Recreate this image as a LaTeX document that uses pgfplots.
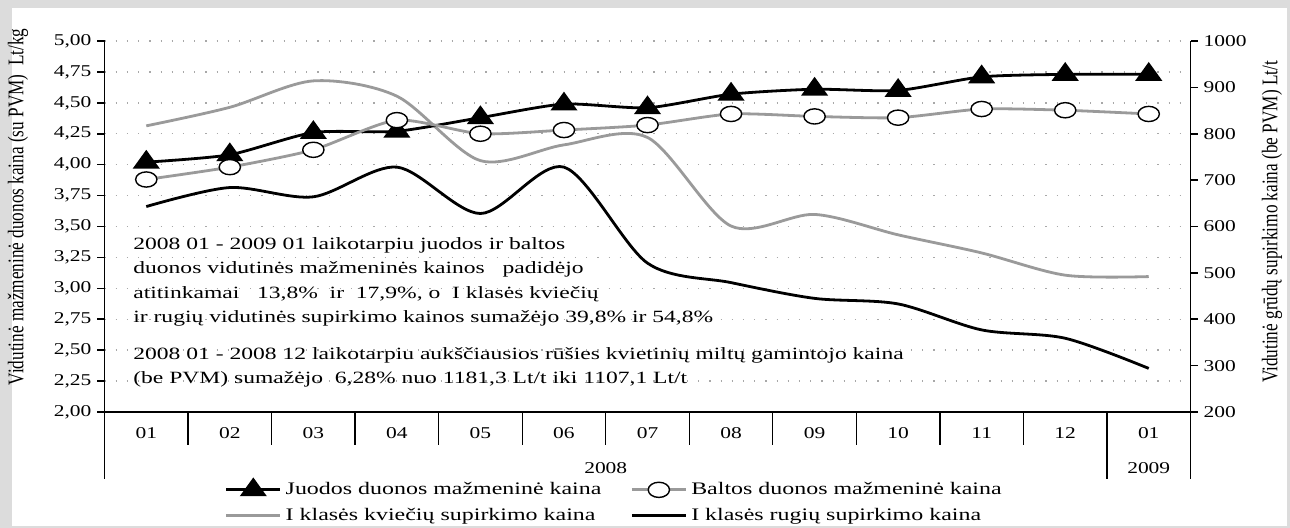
\documentclass[border=0pt]{standalone}
\usepackage{fontspec}
\setmainfont{Liberation Serif}[FakeStretch=1.37]
\newfontfamily\tickfont{Liberation Serif}[FakeStretch=1.3]
\newfontfamily\legfont{Liberation Serif}[FakeStretch=1.36]
\newfontfamily\plainfont{Liberation Serif}
\usepackage{graphicx}
\usepackage{pgfplots}
\pgfplotsset{compat=1.18}
\definecolor{lgray}{HTML}{9A9A9A}
\definecolor{framegray}{HTML}{DCDCDC}
\definecolor{gridgray}{HTML}{A8A8A8}

\pgfplotstableread{
x juodos baltos kvieciai rugiai
0  4.02 3.88 817 643
1  4.08 3.98 857 684
2  4.26 4.12 914 664
3  4.27 4.36 881 728
4  4.38 4.25 742 628
5  4.49 4.28 776 728
6  4.46 4.32 792 521
7  4.57 4.41 601 479
8  4.61 4.39 626 445
9  4.60 4.38 582 433
10 4.71 4.45 543 377
11 4.73 4.44 495 359
12 4.73 4.41 492 294
}\datatable

\begin{document}
\fontsize{8.6pt}{11.75pt}\selectfont
\begin{tikzpicture}
\fill[framegray] (0,0) rectangle (645pt,264pt);
\fill[white] (6pt,1pt) rectangle (643.5pt,260pt);
\pgfplotsset{
  base/.style={scale only axis, width=543pt, height=185.5pt,
    at={(52.25pt,58pt)}, anchor=south west, xmin=-0.5, xmax=12.5,
    tick label style={font=\tickfont\fontsize{8.25pt}{10pt}\selectfont},
    label style={font=\fontsize{8.25pt}{10pt}\selectfont},
  },
}
% ---------- axis 1: left scale, grid, x categories, annotation
\begin{axis}[base, ymin=2, ymax=5, clip=false,
  axis x line*=bottom, axis y line*=left,
  axis line style={line width=0.9pt, black},
  ytick={2,2.25,2.5,2.75,3,3.25,3.5,3.75,4,4.25,4.5,4.75,5},
  yticklabel style={/pgf/number format/.cd, fixed, fixed zerofill, precision=2, use comma, assume math mode=true},
  ymajorgrids,
  major grid style={gridgray, line width=0.7pt, dash pattern=on 0.6pt off 5pt},
  tick align=outside,
  major tick length=3.5pt,
  every tick/.style={black, line width=0.8pt},
  xtick={0,...,12},
  xticklabels={01,02,03,04,05,06,07,08,09,10,11,12,01},
  x tick style={draw=none},
  xticklabel style={anchor=center, yshift=-7pt},
  ylabel={\scalebox{1}[1.3]{\plainfont\fontsize{8.6pt}{10pt}\selectfont Vidutinė mažmeninė duonos kaina (su PVM)\ \ Lt/kg}},
  ylabel style={at={(axis description cs:-0.0797,0.5526)}, anchor=center},
]
\pgfplotsinvokeforeach{0.5,1.5,2.5,3.5,4.5,5.5,6.5,7.5,8.5,9.5,10.5}{
  \draw[black, line width=0.65pt] (axis cs:#1,2) -- ++(0pt,-16.5pt);}
\pgfplotsinvokeforeach{-0.5,11.5,12.5}{
  \draw[black, line width=0.65pt] (axis cs:#1,2) -- ++(0pt,-33.5pt);}
\node[anchor=base west, inner sep=0pt] at (rel axis cs:0.0262,0.438) {2008 01 - 2009 01 laikotarpiu juodos ir baltos};
\node[anchor=base west, inner sep=0pt] at (rel axis cs:0.0262,0.372) {duonos vidutinės mažmeninės kainos\ \ \ padidėjo};
\node[anchor=base west, inner sep=0pt] at (rel axis cs:0.0262,0.307) {atitinkamai\ \ \ 13,8\%\ \ ir\ \ 17,9\%, o\ \ I klasės kviečių};
\node[anchor=base west, inner sep=0pt] at (rel axis cs:0.0262,0.240) {ir rugių vidutinės supirkimo kainos sumažėjo 39,8\% ir 54,8\%};
\node[anchor=base west, inner sep=0pt] at (rel axis cs:0.0262,0.1415) {2008 01 - 2008 12 laikotarpiu aukščiausios rūšies kvietinių miltų gamintojo kaina};
\node[anchor=base west, inner sep=0pt] at (rel axis cs:0.0262,0.078) {(be PVM) sumažėjo\ \ 6,28\% nuo 1181,3 Lt/t iki 1107,1 Lt/t};
\node[anchor=center, font=\tickfont\fontsize{8.25pt}{10pt}\selectfont] at (axis cs:5.5,2) [yshift=-28pt] {2008};
\node[anchor=center, font=\tickfont\fontsize{8.25pt}{10pt}\selectfont] at (axis cs:12,2) [yshift=-28pt] {2009};
\end{axis}
% ---------- axis 2: right scale, grain prices
\begin{axis}[base, ymin=200, ymax=1000,
  axis y line*=right, axis x line=none,
  axis line style={line width=0.9pt, black},
  ytick={200,300,...,1000},
  yticklabel style={/pgf/number format/.cd, set thousands separator={}, assume math mode=true},
  tick align=outside,
  major tick length=3.5pt,
  every tick/.style={black, line width=0.8pt},
  ylabel={\scalebox{1}[1.3]{\plainfont\fontsize{8.6pt}{10pt}\selectfont Vidutinė grūdų supirkimo kaina (be PVM) Lt/t}},
  ylabel style={at={(axis description cs:1.075,0.512)}, anchor=center},
]
\addplot[lgray, line width=1.4pt, smooth] table[x=x, y=kvieciai] {\datatable};
\addplot[black, line width=1.4pt, smooth] table[x=x, y=rugiai] {\datatable};
\end{axis}
% ---------- axis 3: bread prices + legend
\begin{axis}[base, ymin=2, ymax=5, hide axis,
  legend columns=2,
  legend cell align=left,
  legend style={at={(rel axis cs:0.1105,-0.178)}, anchor=north west, draw=none, fill=none,
    inner sep=0pt, row sep=1.5pt,
    font=\legfont\fontsize{8.8pt}{10.5pt}\selectfont,
    /tikz/every even column/.append style={column sep=12.5pt}},
  legend image code/.code={\draw[mark repeat=2, mark phase=2] plot coordinates {(0pt,0pt) (13.5pt,0pt) (27pt,0pt)};},
]
\addplot[black, line width=1.4pt, smooth, tension=0.4, mark=triangle*, mark size=5pt,
  mark options={xscale=1.25, solid, fill=black}] table[x=x, y=juodos] {\datatable};
\addlegendentry{Juodos duonos mažmeninė kaina}
\addplot[lgray, line width=1.4pt, smooth, tension=0.4, mark=*, mark size=3.8pt,
  mark options={xscale=1.4, draw=black, fill=white, line width=0.7pt}] table[x=x, y=baltos] {\datatable};
\addlegendentry{Baltos duonos mažmeninė kaina}
\addlegendimage{lgray, line width=1.4pt}
\addlegendentry{I klasės kviečių supirkimo kaina}
\addlegendimage{black, line width=1.4pt}
\addlegendentry{I klasės rugių supirkimo kaina}
\end{axis}
\end{tikzpicture}
\end{document}
